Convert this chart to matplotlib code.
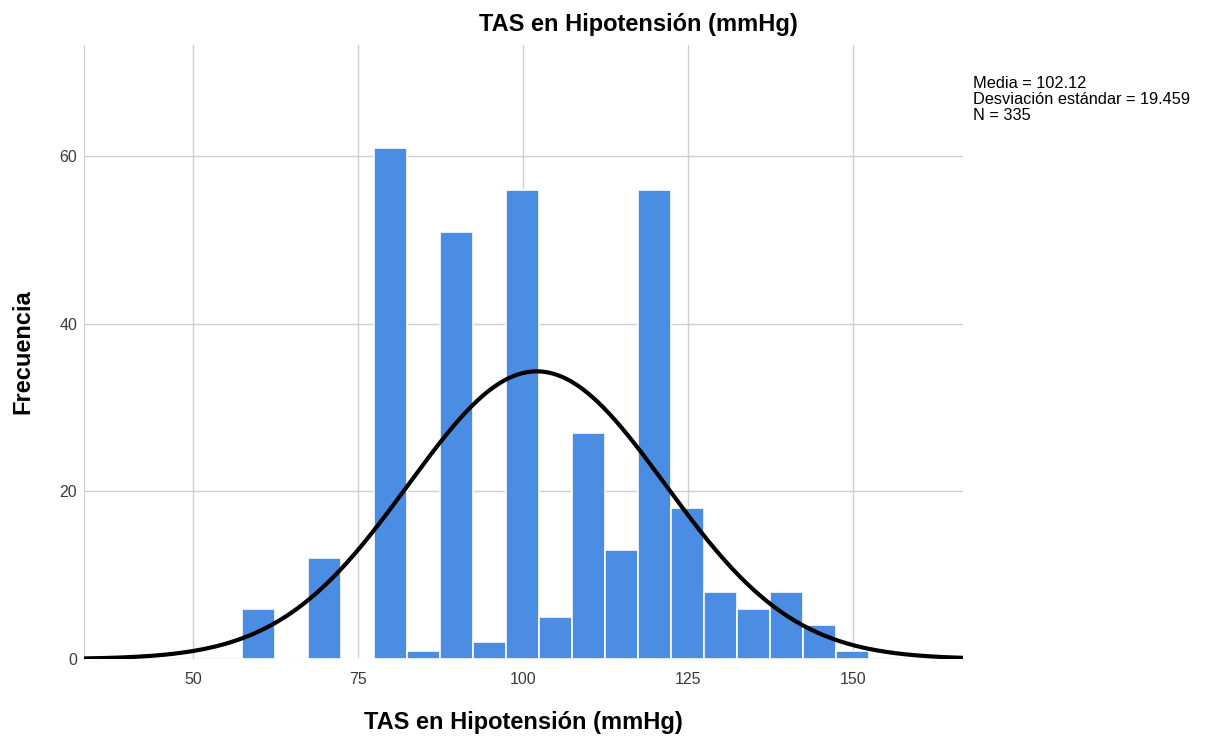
import numpy as np
import matplotlib
matplotlib.use("Agg")
import matplotlib.pyplot as plt

plt.rcParams['font.family'] = ['Liberation Sans', 'DejaVu Sans']

# Histogram bins (centres, width 5 mmHg) and frequencies
bin_centers = [60, 65, 70, 75, 80, 85, 90, 95, 100, 105, 110, 115, 120, 125, 130, 135, 140, 145, 150]
frequencies = [6, 0, 12, 0, 61, 1, 51, 2, 56, 5, 27, 13, 56, 18, 8, 6, 8, 4, 1]
bin_width = 5

mean_val = 102.12
std_val = 19.459
n_total = 335

x_ticks = [50, 75, 100, 125, 150]
y_ticks = [0, 20, 40, 60]

W, H = 1207, 741
fig = plt.figure(figsize=(W / 100, H / 100), dpi=100)
ax = fig.add_axes([84 / W, 1 - 659 / H, (963 - 84) / W, (659 - 45) / H])

ax.bar(bin_centers, frequencies, width=bin_width, color='#4a8de2',
       edgecolor='white', linewidth=1.2, zorder=2)

# Normal curve scaled to counts
xmin, xmax = 33.5, 166.7
xs = np.linspace(xmin, xmax, 600)
pdf = np.exp(-0.5 * ((xs - mean_val) / std_val) ** 2) / (std_val * np.sqrt(2 * np.pi))
ax.plot(xs, pdf * n_total * bin_width, color='black', linewidth=3, zorder=3,
        solid_capstyle='butt')

ax.set_xlim(xmin, xmax)
ax.set_ylim(0, 73.3)
ax.set_xticks(x_ticks)
ax.set_yticks(y_ticks)
ax.tick_params(axis='x', length=0, labelsize=11.5, colors='#3a3a3a', pad=9)
ax.tick_params(axis='y', length=0, labelsize=11.5, colors='#3a3a3a', pad=5)
ax.grid(True, color='#cfcfcf', linewidth=1.0, zorder=0)
ax.set_axisbelow(True)
for side in ['top', 'right', 'bottom']:
    ax.spines[side].set_visible(False)
ax.spines['left'].set_color('#cfcfcf')

ax.set_xlabel('TAS en Hipotensión (mmHg)', fontsize=17, fontweight='bold', labelpad=18)
ax.set_ylabel('Frecuencia', fontsize=17, fontweight='bold', labelpad=18)

fig.text(638 / W, 1 - 25 / H, 'TAS en Hipotensión (mmHg)', fontsize=17,
         fontweight='bold', ha='center', va='center')

fig.text(973 / W, 1 - 76 / H,
         f'Media = {mean_val:.2f}\nDesviación estándar = {std_val:.3f}\nN = {n_total}',
         fontsize=11.8, ha='left', va='top', linespacing=1.1)

fig.savefig('out.png', dpi=100)
